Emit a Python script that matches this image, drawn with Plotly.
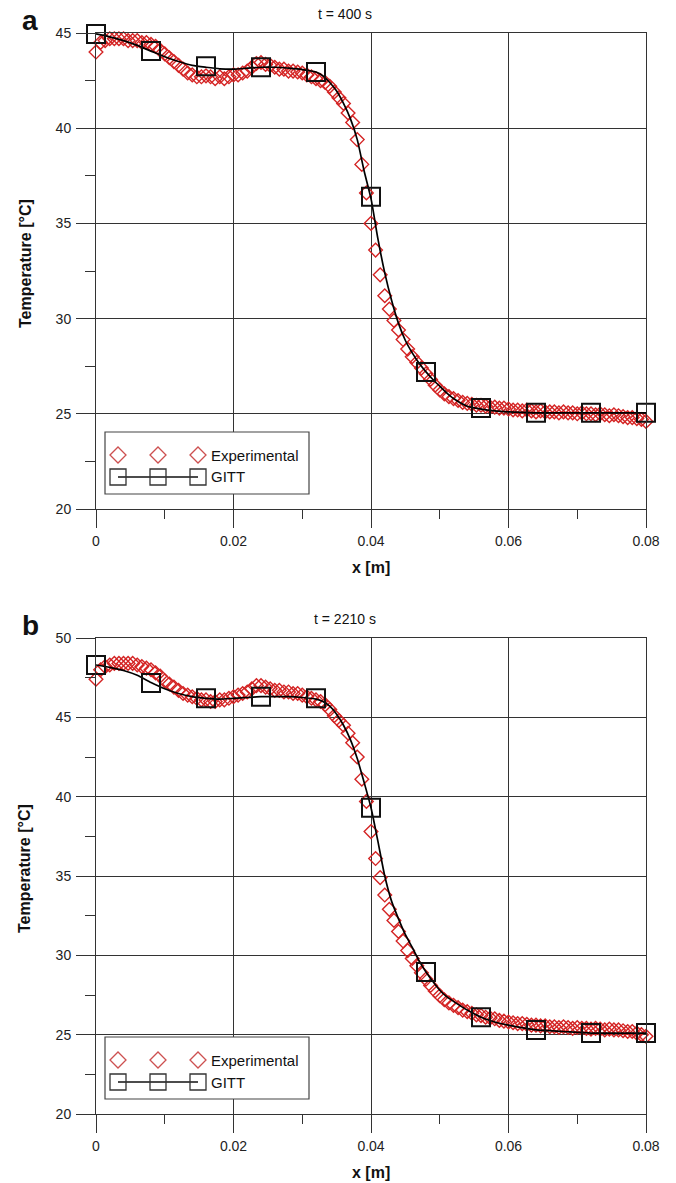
import numpy as np
import plotly.graph_objects as go

# ---------------- data ----------------
# measurement positions (uniformly spaced sensors along x)
x_exp = np.linspace(0, 0.08, 121)

temp_exp_a = [
    44.0, 44.5, 44.6, 44.7, 44.7, 44.7, 44.7, 44.6, 44.6, 44.6,
    44.5, 44.5, 44.4, 44.3, 44.1, 43.9, 43.7, 43.5, 43.3, 43.1,
    42.9, 42.8, 42.7, 42.7, 42.75, 42.7, 42.6, 42.7, 42.6, 42.7,
    42.8, 42.8, 42.9, 43.0, 43.2, 43.4, 43.45, 43.35, 43.3, 43.2,
    43.1, 43.1, 43.0, 43.0, 42.95, 42.9, 42.8, 42.7, 42.6, 42.5,
    42.4, 42.2, 41.9, 41.6, 41.3, 40.8, 40.3, 39.4, 38.1, 36.6,
    35.0, 33.6, 32.3, 31.2, 30.5, 29.9, 29.4, 28.9, 28.4, 28.0,
    27.7, 27.4, 27.1, 26.8, 26.5, 26.25, 26.05, 25.9, 25.8, 25.7,
    25.6, 25.55, 25.5, 25.45, 25.45, 25.4, 25.35, 25.35, 25.3, 25.3,
    25.25, 25.2, 25.2, 25.15, 25.2, 25.15, 25.1, 25.15, 25.1, 25.1,
    25.1, 25.05, 25.1, 25.05, 25.05, 25.0, 25.05, 25.0, 25.0, 24.95,
    25.0, 24.95, 24.9, 24.95, 24.9, 24.85, 24.8, 24.8, 24.75, 24.7,
    24.6,
]

temp_exp_b = [
    47.4, 48.0, 48.2, 48.3, 48.4, 48.4, 48.4, 48.4, 48.4, 48.3,
    48.2, 48.1, 48.0, 47.8, 47.6, 47.3, 47.1, 46.9, 46.7, 46.5,
    46.4, 46.3, 46.2, 46.1, 46.1, 46.0, 46.0, 46.1, 46.1, 46.2,
    46.3, 46.4, 46.5, 46.6, 46.8, 47.0, 47.0, 46.9, 46.8, 46.7,
    46.7, 46.6, 46.6, 46.5, 46.5, 46.4, 46.3, 46.2, 46.1, 46.0,
    45.8, 45.5, 45.1, 44.8, 44.5, 44.0, 43.4, 42.5, 41.1, 39.7,
    37.8, 36.1, 34.9, 33.8, 32.9, 32.2, 31.5, 30.9, 30.3, 29.8,
    29.35, 28.9, 28.5, 28.1, 27.75, 27.45, 27.2, 27.0, 26.85, 26.7,
    26.55, 26.45, 26.35, 26.25, 26.2, 26.1, 26.05, 26.0, 25.9, 25.85,
    25.8, 25.75, 25.7, 25.7, 25.65, 25.6, 25.6, 25.55, 25.55, 25.5,
    25.5, 25.45, 25.5, 25.45, 25.4, 25.45, 25.4, 25.4, 25.35, 25.4,
    25.35, 25.3, 25.35, 25.3, 25.3, 25.25, 25.2, 25.2, 25.1, 25.0,
    24.9,
]

x_gitt = [0.0, 0.008, 0.016, 0.024, 0.032, 0.040, 0.048, 0.056, 0.064, 0.072, 0.080]
temp_gitt_a = [44.95, 44.05, 43.25, 43.2, 42.95, 36.4, 27.2, 25.3, 25.05, 25.05, 25.05]
temp_gitt_b = [48.3, 47.17, 46.2, 46.3, 46.2, 39.3, 28.95, 26.1, 25.3, 25.1, 25.1]

x_curve = [0.0, 0.002, 0.004, 0.006, 0.008, 0.010, 0.012, 0.014, 0.016, 0.018,
           0.020, 0.022, 0.024, 0.026, 0.028, 0.030, 0.032, 0.033, 0.034, 0.035,
           0.036, 0.037, 0.038, 0.039, 0.040, 0.041, 0.042, 0.043, 0.044, 0.045,
           0.046, 0.047, 0.048, 0.049, 0.050, 0.051, 0.052, 0.054, 0.056, 0.058,
           0.060, 0.064, 0.068, 0.072, 0.076, 0.080]
temp_curve_a = [44.95, 44.8, 44.6, 44.35, 44.05, 43.75, 43.5, 43.3, 43.2, 43.12,
                43.1, 43.15, 43.2, 43.2, 43.15, 43.08, 42.95, 42.75, 42.4, 41.95,
                41.3, 40.5, 39.4, 37.75, 36.3, 34.2, 32.4, 30.95, 29.75, 28.85,
                28.2, 27.65, 27.2, 26.8, 26.45, 26.1, 25.8, 25.4, 25.25, 25.15,
                25.1, 25.05, 25.05, 25.05, 25.05, 25.05]
temp_curve_b = [48.3, 48.15, 47.95, 47.65, 47.2, 46.8, 46.5, 46.3, 46.2, 46.15,
                46.2, 46.25, 46.3, 46.3, 46.3, 46.25, 46.15, 46.0, 45.7, 45.2,
                44.5, 43.6, 42.4, 40.9, 39.3, 37.2, 35.0, 33.4, 32.3, 31.3,
                30.5, 29.65, 28.95, 28.35, 27.8, 27.4, 27.1, 26.55, 26.1, 25.8,
                25.6, 25.3, 25.2, 25.1, 25.1, 25.1]

panel_titles = ["t = 400 s", "t = 2210 s"]
panel_letters = ["a", "b"]
y_ranges = [[20, 45], [20, 50]]
legend_names = ["Experimental", "GITT"]

# ---------------- layout helpers ----------------
W, H = 676, 1183
L, R, T, B = 96, 646, 33, 1114
FONT = "Liberation Sans, Arial, Helvetica, sans-serif"
RED = "rgb(212,36,36)"
GRID = "#333333"


def px2x(px):
    return (px - L) / (R - L)


def py2y(py):
    return (B - py) / (B - T)


def label(text, cx, cy, size, angle=0, xanchor="center"):
    return dict(text=text, x=px2x(cx), y=py2y(cy), xref="paper", yref="paper",
                showarrow=False, xanchor=xanchor, yanchor="middle", textangle=angle,
                font=dict(family=FONT, size=size, color="#111"))


fig = go.Figure()

panels = [
    dict(xa="x", ya="y", exp=temp_exp_a, gitt=temp_gitt_a, curve=temp_curve_a),
    dict(xa="x2", ya="y2", exp=temp_exp_b, gitt=temp_gitt_b, curve=temp_curve_b),
]

for k, p in enumerate(panels):
    fig.add_trace(go.Scatter(
        x=x_exp, y=p["exp"], xaxis=p["xa"], yaxis=p["ya"], mode="markers",
        name=legend_names[0], showlegend=False, cliponaxis=False,
        marker=dict(symbol="diamond-open", size=10.5, color=RED, line=dict(width=1.4, color=RED)),
    ))
    fig.add_trace(go.Scatter(
        x=x_curve, y=p["curve"], xaxis=p["xa"], yaxis=p["ya"], mode="lines",
        name=legend_names[1], showlegend=False, cliponaxis=False,
        line=dict(color="black", width=1.7, shape="spline", smoothing=0.6),
    ))
    fig.add_trace(go.Scatter(
        x=x_gitt, y=p["gitt"], xaxis=p["xa"], yaxis=p["ya"], mode="markers",
        name=legend_names[1], showlegend=False, cliponaxis=False,
        marker=dict(symbol="square-open", size=18, color="#111", line=dict(width=2, color="#111")),
    ))

panel_top_px = [33, 638]
panel_bot_px = [509, 1114]

axis_common = dict(
    showline=True, mirror=True, linecolor=GRID, linewidth=1,
    showgrid=True, gridcolor=GRID, gridwidth=1, zeroline=False,
    ticks="outside", tickcolor=GRID, tickwidth=1,
    tickfont=dict(family=FONT, size=14, color="#222"),
)

layout_axes = {}
for k in range(2):
    dom_y = [py2y(panel_bot_px[k]), py2y(panel_top_px[k])]
    xname = "xaxis" if k == 0 else "xaxis2"
    yname = "yaxis" if k == 0 else "yaxis2"
    ya_ref = "y" if k == 0 else "y2"
    xa_ref = "x" if k == 0 else "x2"
    layout_axes[xname] = dict(
        axis_common, domain=[0, 1], anchor=ya_ref, range=[0, 0.08], dtick=0.02, tick0=0,
        ticklen=18, ticklabelstandoff=1,
        minor=dict(dtick=0.01, ticks="outside", ticklen=9, tickcolor=GRID, tickwidth=1, showgrid=False),
    )
    layout_axes[yname] = dict(
        axis_common, domain=dom_y, anchor=xa_ref, range=y_ranges[k], dtick=5, tick0=20,
        ticklen=19, ticklabelstandoff=2,
        minor=dict(dtick=2.5, ticks="outside", ticklen=10, tickcolor=GRID, tickwidth=1, showgrid=False),
    )

annotations = []
shapes = []
for k in range(2):
    off = 0 if k == 0 else 605
    annotations.append(label(f"<b>{panel_letters[k]}</b>", 30, 20 + off, 28))
    annotations.append(label(panel_titles[k], 345, 14 + off, 14))
    annotations.append(label("<b>Temperature [°C]</b>", 25,
                             (panel_top_px[k] + panel_bot_px[k]) / 2 - 7, 16, angle=-90))
    annotations.append(label("<b>x [m]</b>", 371, 567 + off, 16))
    # legend box
    shapes.append(dict(type="rect", xref="paper", yref="paper",
                       x0=px2x(105), x1=px2x(309), y0=py2y(494 + off), y1=py2y(432 + off),
                       line=dict(color="#444", width=1.2), fillcolor="white", layer="above"))
    shapes.append(dict(type="line", xref="paper", yref="paper",
                       x0=px2x(118), x1=px2x(198), y0=py2y(477 + off), y1=py2y(477 + off),
                       line=dict(color="#111", width=1.4), layer="above"))
    for cx in (118, 158, 198):
        shapes.append(dict(type="path", xref="paper", yref="paper",
                           xsizemode="pixel", ysizemode="pixel",
                           xanchor=px2x(cx), yanchor=py2y(455 + off),
                           path="M -8 0 L 0 8 L 8 0 L 0 -8 Z",
                           line=dict(color="rgb(205,80,80)", width=1.3), layer="above"))
        shapes.append(dict(type="rect", xref="paper", yref="paper",
                           xsizemode="pixel", ysizemode="pixel",
                           xanchor=px2x(cx), yanchor=py2y(477 + off),
                           x0=-8, x1=8, y0=-8, y1=8,
                           line=dict(color="#333", width=1.3), layer="above"))
    annotations.append(label(legend_names[0], 209, 455 + off, 15, xanchor="left"))
    annotations.append(label(legend_names[1], 209, 477 + off, 15, xanchor="left"))

fig.update_layout(
    width=W, height=H,
    margin=dict(l=L, r=W - R, t=T, b=H - B, pad=0),
    paper_bgcolor="white", plot_bgcolor="white",
    showlegend=False,
    annotations=annotations, shapes=shapes,
    font=dict(family=FONT),
    **layout_axes,
)

fig.write_html("out.html")
